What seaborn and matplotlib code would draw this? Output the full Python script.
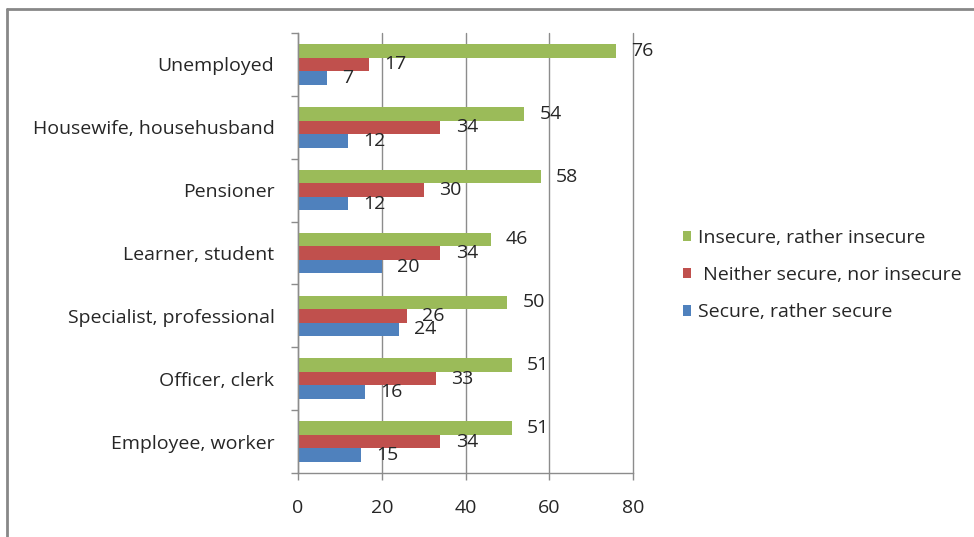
import matplotlib
matplotlib.use("Agg")
import matplotlib.pyplot as plt
from matplotlib.lines import Line2D
import seaborn as sns
import pandas as pd

categories = [
    "Unemployed",
    "Housewife, househusband",
    "Pensioner",
    "Learner, student",
    "Specialist, professional",
    "Officer, clerk",
    "Employee, worker",
]
series_names = [
    "Insecure, rather insecure",
    " Neither secure, nor insecure",
    "Secure, rather secure",
]
insecure = [76, 54, 58, 46, 50, 51, 51]
neither = [17, 34, 30, 34, 26, 33, 34]
secure = [7, 12, 12, 20, 24, 16, 15]
x_ticks = [0, 20, 40, 60, 80]
colors = ["#9BBB59", "#C0504D", "#4F81BD"]

rows = []
for name, values in zip(series_names, [insecure, neither, secure]):
    for cat, v in zip(categories, values):
        rows.append({"category": cat, "group": name, "value": v})
df = pd.DataFrame(rows)

sns.set_theme(style="white")
plt.rcParams["font.family"] = ["Open Sans", "DejaVu Sans"]

FS = 14
TEXT = "#262626"

fig = plt.figure(figsize=(9.74, 5.37), dpi=100)
ax = fig.add_axes([298 / 974, 1 - 473 / 537, 335 / 974, 440 / 537])

sns.barplot(
    data=df, y="category", x="value", hue="group",
    order=categories, hue_order=series_names, palette=colors,
    orient="h", width=0.645, dodge=True, saturation=1,
    errorbar=None, ax=ax, legend=True, linewidth=0,
)

for container in ax.containers:
    ax.bar_label(container, padding=11, fontsize=FS, color=TEXT)

grid_color = "#8c8c8c"
ax.set_xlim(0, 80)
ax.set_ylim(6.5, -0.5)
ax.set_xticks(x_ticks)
ax.xaxis.grid(True, color=grid_color, linewidth=1)
for line in ax.get_xgridlines():
    line.set_clip_on(False)
ax.set_axisbelow(True)
ax.set_xlabel("")
ax.set_ylabel("")

for side in ["top", "right"]:
    ax.spines[side].set_visible(False)
for side in ["left", "bottom"]:
    ax.spines[side].set_color(grid_color)
    ax.spines[side].set_linewidth(1)

ax.tick_params(axis="x", direction="out", length=5, width=1, color=grid_color,
               pad=14, labelsize=FS, labelcolor=TEXT, bottom=True)
ax.tick_params(axis="y", which="major", length=0, pad=17, labelsize=FS,
               labelcolor=TEXT)
ax.set_yticks([i + 0.5 for i in range(-1, len(categories))], minor=True)
ax.tick_params(axis="y", which="minor", direction="out", length=5, width=1,
               color=grid_color, left=True)

handles, labels = ax.get_legend_handles_labels()
ax.legend(
    handles, labels, loc="center left", bbox_to_anchor=(665 / 974, 1 - 275 / 537),
    bbox_transform=fig.transFigure, frameon=False, fontsize=FS,
    handlelength=0.42, handleheight=0.42, handletextpad=0.36, labelspacing=1.0,
    labelcolor=TEXT,
)

# outer frame lines on the left and top edges
fig.add_artist(Line2D([7 / 974, 7 / 974], [0, 1 - 9 / 537], color="#888888",
                      linewidth=2, transform=fig.transFigure))
fig.add_artist(Line2D([7 / 974, 1], [1 - 9 / 537, 1 - 9 / 537], color="#888888",
                      linewidth=2, transform=fig.transFigure))

fig.savefig("out.png", dpi=100)
